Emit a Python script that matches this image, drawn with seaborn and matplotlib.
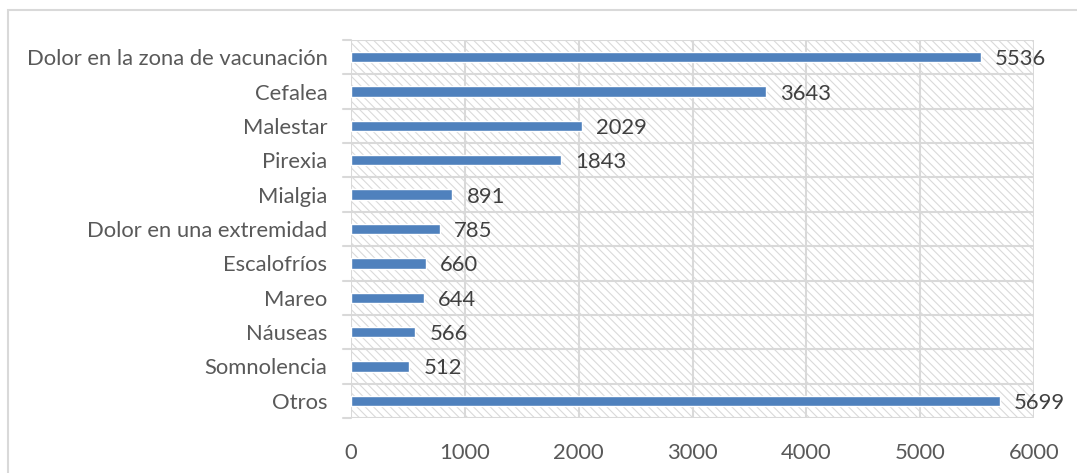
import matplotlib
matplotlib.use("Agg")
import matplotlib.pyplot as plt
from matplotlib.patches import Rectangle
import seaborn as sns
import pandas as pd

# Data
sintomas = ["Dolor en la zona de vacunación", "Cefalea", "Malestar", "Pirexia", "Mialgia",
            "Dolor en una extremidad", "Escalofríos", "Mareo", "Náuseas", "Somnolencia", "Otros"]
casos = [5536, 3643, 2029, 1843, 891, 785, 660, 644, 566, 512, 5699]
x_ticks = [0, 1000, 2000, 3000, 4000, 5000, 6000]

df = pd.DataFrame({"Síntoma": sintomas, "Casos": casos})

sns.set_style("white")
plt.rcParams["font.family"] = ["Lato", "DejaVu Sans"]
plt.rcParams["hatch.linewidth"] = 0.8
grid_col = "#D9D9D9"
text_col = "#595959"
fs = 15.8

fig = plt.figure(figsize=(10.77, 4.73), dpi=100)
ax = fig.add_axes([351 / 1077, 1 - 418 / 473, (1034 - 351) / 1077, (418 - 40) / 473])

# hatched plot-area background
bg = Rectangle((0, 0), 1, 1, transform=ax.transAxes, facecolor="white",
               edgecolor="#DADADA", hatch="\\\\\\\\", lw=0, zorder=0)
ax.add_patch(bg)

sns.barplot(data=df, y="Síntoma", x="Casos", orient="h", color="#4F81BD",
            width=0.3, saturation=1, ax=ax, zorder=3)

ax.set_xlim(0, 6000)
ax.set_ylim(len(sintomas) - 0.5, -0.5)
ax.set_xticks(x_ticks)
ax.set_xticklabels([str(t) for t in x_ticks])
ax.set_xlabel("")
ax.set_ylabel("")

# grid lines: verticals at ticks, horizontals at category boundaries
for t in x_ticks:
    ax.axvline(t, color=grid_col, lw=1.5, zorder=1)
for i in range(len(sintomas) + 1):
    ax.axhline(i - 0.5, color=grid_col, lw=1.5, zorder=1)
    ax.plot([-0.012, 0], [i - 0.5, i - 0.5], transform=ax.get_yaxis_transform(),
            color=grid_col, lw=1.5, clip_on=False)

for s in ax.spines.values():
    s.set_visible(False)

ax.tick_params(axis="both", length=0, labelsize=fs, colors=text_col)
ax.tick_params(axis="y", pad=17)
ax.tick_params(axis="x", pad=18)

for i, v in enumerate(casos):
    ax.annotate(str(v), (v, i), xytext=(14, -2), textcoords="offset pixels",
                va="center", ha="left", fontsize=fs, color="#404040")

# outer chart border
fig.patches.append(Rectangle((7.5 / 1077, -0.2), 1.2, 1.2 - 10.5 / 473,
                             transform=fig.transFigure, fill=False,
                             edgecolor=grid_col, lw=1.5))

fig.savefig("out.png", dpi=100)
